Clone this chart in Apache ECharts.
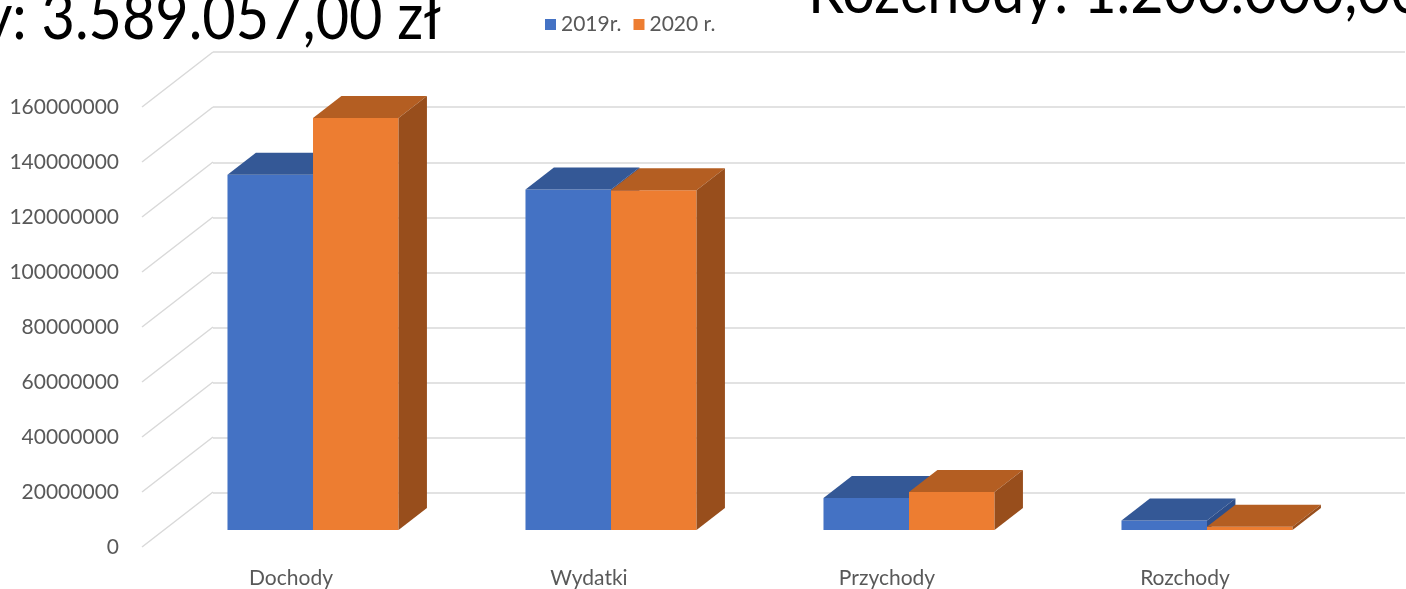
<!DOCTYPE html>
<html>
<head>
<meta charset="utf-8">
<title>Dochody / Wydatki</title>
<script src="https://cdn.jsdelivr.net/npm/echarts@6/dist/echarts.min.js"></script>
<style>
  html, body { margin: 0; padding: 0; background: #fff; }
  #main { width: 1406px; height: 589px; }
</style>
</head>
<body>
<div id="main"></div>
<script>
var categories = ['Dochody', 'Wydatki', 'Przychody', 'Rozchody'];
var seriesNames = ['2019r.', '2020 r.'];
var values2019 = [129200000, 123800000, 11600000, 3400000];
var values2020 = [149800000, 123500000, 13800000, 1200000];
var yTicks = [0, 20000000, 40000000, 60000000, 80000000, 100000000, 120000000, 140000000, 160000000];

var frontColors = ['#4472C4', '#ED7D31'];
var topColors = ['#345896', '#B45E22'];
var sideColors = ['#2D4E8A', '#984E1C'];

// depth of the 3d box, in px (front plane -> back wall)
var depthX = 71, depthY = -55;
var barFront = 0.31, barDepth = 0.40, barWidth = 0.287;

var myChart = echarts.init(document.getElementById('main'));

function renderBar(s) {
  return function (params, api) {
    var cat = api.value(0);
    var base = api.coord([cat, 0]);
    var top = api.coord([cat, api.value(1)]);
    var bw = api.size([1, 0])[0] * barWidth;
    var ox = depthX * barFront, oy = depthY * barFront;
    var dx = depthX * barDepth, dy = depthY * barDepth;
    var x0 = base[0] - bw + s * bw + ox;
    var yb = base[1] + oy, yt = top[1] + oy;
    return {
      type: 'group',
      children: [
        { type: 'rect', shape: { x: x0, y: yt, width: bw, height: yb - yt },
          style: { fill: frontColors[s] } },
        { type: 'polygon', shape: { points: [[x0, yt], [x0 + bw, yt], [x0 + bw + dx, yt + dy], [x0 + dx, yt + dy]] },
          style: { fill: topColors[s] } },
        { type: 'polygon', shape: { points: [[x0 + bw, yt], [x0 + bw + dx, yt + dy], [x0 + bw + dx, yb + dy], [x0 + bw, yb]] },
          style: { fill: sideColors[s] } }
      ]
    };
  };
}

var option = {
  animation: false,
  textStyle: { fontFamily: 'Lato' },
  legend: {
    data: seriesNames,
    left: 540, top: 9,
    icon: 'rect', itemWidth: 11, itemHeight: 11, itemGap: 12,
    textStyle: { color: '#595959', fontSize: 21, fontFamily: 'Lato' }
  },
  grid: [
    { left: 142, right: 72, top: 107, bottom: 41 },
    { left: 213, right: 1, top: 52, bottom: 96 }
  ],
  xAxis: [
    { type: 'category', data: categories, gridIndex: 0,
      axisLine: { show: false }, axisTick: { show: false },
      axisLabel: { color: '#595959', fontSize: 21, margin: 21 } },
    { type: 'category', data: categories, gridIndex: 1, show: false }
  ],
  yAxis: [
    { type: 'value', gridIndex: 0, min: 0, max: 160000000, interval: 20000000,
      axisLine: { show: false }, axisTick: { show: false }, splitLine: { show: false },
      axisLabel: { color: '#595959', fontSize: 21, margin: 23, formatter: function (v) { return String(v); } } },
    { type: 'value', gridIndex: 1, min: 0, max: 160000000, interval: 20000000,
      axisLine: { show: false }, axisTick: { show: false }, axisLabel: { show: false },
      splitLine: { show: true, lineStyle: { color: '#d9d9d9', width: 1.5 } } }
  ],
  graphic: [
    { type: 'text', x: 441, y: 50, scaleX: 0.9, silent: true,
      style: { text: 'y: 3.589.057,00 zł', font: '64px Lato', fill: '#000', textAlign: 'right', textVerticalAlign: 'bottom' } },
    { type: 'text', x: 808, y: 24, scaleX: 0.9, silent: true,
      style: { text: 'Rozchody: 1.200.000,00 zł', font: '64px Lato', fill: '#000', textAlign: 'left', textVerticalAlign: 'bottom' } }
  ],
  series: [
    {
      type: 'custom', name: 'sidewall', xAxisIndex: 0, yAxisIndex: 0, silent: true, z: 1,
      data: yTicks.map(function (v) { return [0, v]; }),
      renderItem: function (params, api) {
        var p = api.coord([0, api.value(1)]);
        var x = params.coordSys.x;
        return { type: 'line', shape: { x1: x, y1: p[1], x2: x + depthX, y2: p[1] + depthY },
          style: { stroke: '#d9d9d9', lineWidth: 1.5 } };
      }
    },
    {
      type: 'custom', name: seriesNames[0], xAxisIndex: 0, yAxisIndex: 0, z: 2,
      itemStyle: { color: frontColors[0] },
      data: values2019.map(function (v, i) { return [i, v]; }),
      renderItem: renderBar(0)
    },
    {
      type: 'custom', name: seriesNames[1], xAxisIndex: 0, yAxisIndex: 0, z: 3,
      itemStyle: { color: frontColors[1] },
      data: values2020.map(function (v, i) { return [i, v]; }),
      renderItem: renderBar(1)
    }
  ]
};
myChart.setOption(option);
</script>
</body>
</html>
